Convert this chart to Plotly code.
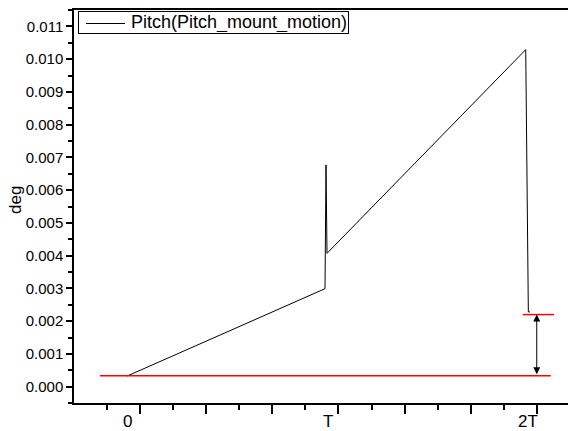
import plotly.graph_objects as go

# ---- data (x in units of T, y in deg) ----
pitch_x = [0.0, 0.987, 0.992, 0.997, 1.989, 2.002, 2.010]
pitch_y = [0.000325, 0.00299, 0.00677, 0.00407, 0.01029, 0.00228, 0.00228]

lower_ref_x = [-0.136, 2.114]
lower_ref_y = [0.00033, 0.00033]
upper_ref_x = [1.974, 2.130]
upper_ref_y = [0.00220, 0.00220]

arrow_x = 2.044
x_label_pos = [0, 1, 2]
x_label_text = ["0", "T", "2T"]
series_name = "Pitch(Pitch_mount_motion)"
y_title = "deg"

FONT = "Liberation Sans, Arial, sans-serif"
PLOT_W, PLOT_H = 494, 393  # plot area size in px (568-74, 431-10-28)


def px_x(p):
    return (p - 74) / PLOT_W


def px_y(p):
    return (431 - 28 - p) / PLOT_H


fig = go.Figure()
fig.add_trace(go.Scatter(x=pitch_x, y=pitch_y, mode="lines", name=series_name,
                         line=dict(color="black", width=1), showlegend=False))
fig.add_trace(go.Scatter(x=lower_ref_x, y=lower_ref_y, mode="lines", showlegend=False,
                         line=dict(color="#ff0000", width=1.5)))
fig.add_trace(go.Scatter(x=upper_ref_x, y=upper_ref_y, mode="lines", showlegend=False,
                         line=dict(color="#ff0000", width=1.5)))

# double-headed arrow between the two reference lines
fig.add_annotation(x=arrow_x, y=upper_ref_y[0], ax=arrow_x, ay=lower_ref_y[0],
                   xref="x", yref="y", axref="x", ayref="y", text="",
                   showarrow=True, arrowside="end+start", arrowhead=2, startarrowhead=2,
                   arrowsize=1.4, startarrowsize=1.4, arrowwidth=1, arrowcolor="black",
                   standoff=0, startstandoff=0)

# x labels (offset from the tick marks, as in the original)
for xv, t in zip(x_label_pos, x_label_text):
    fig.add_annotation(x=xv, y=0, xref="x", yref="paper", text=t, showarrow=False,
                       yanchor="middle", yshift=-18, font=dict(family=FONT, size=17, color="black"))

# y title
fig.add_annotation(x=px_x(15), y=px_y(200), xref="paper", yref="paper", text=y_title,
                   showarrow=False, textangle=-90, xanchor="center", yanchor="middle",
                   font=dict(family=FONT, size=17, color="black"))

# legend box (Origin style)
fig.add_annotation(x=px_x(78), y=px_y(11), xref="paper", yref="paper", text=series_name,
                   showarrow=False, xanchor="left", yanchor="top", align="right",
                   width=267, height=19, borderpad=1, bordercolor="black", borderwidth=1,
                   bgcolor="rgba(255,255,255,0)", font=dict(family=FONT, size=18, color="black"))
fig.add_shape(type="line", xref="paper", yref="paper", layer="above",
              x0=px_x(86), x1=px_x(125), y0=px_y(23.5), y1=px_y(23.5),
              line=dict(color="black", width=1))

fig.update_layout(
    width=568, height=431,
    margin=dict(l=74, r=0, t=10, b=28),
    paper_bgcolor="white", plot_bgcolor="white",
    font=dict(family=FONT, size=15, color="black"),
    showlegend=False,
)
fig.update_xaxes(range=[-0.266, 2.200], showgrid=False, zeroline=False,
                 showline=True, linecolor="black", linewidth=1.5, mirror=True,
                 ticks="outside", ticklen=9, tickwidth=1.5, tickcolor="black",
                 tick0=0.0634, dtick=0.3303, showticklabels=False,
                 minor=dict(ticks="outside", ticklen=5, tickwidth=1.5, tickcolor="black",
                            tick0=0.0634, dtick=0.16515, showgrid=False))
fig.update_yaxes(range=[-0.0005, 0.0115], showgrid=False, zeroline=False,
                 showline=True, linecolor="black", linewidth=1.5,
                 ticks="outside", ticklen=6, tickwidth=1.5, tickcolor="black",
                 tick0=0, dtick=0.001, tickformat=".3f",
                 tickfont=dict(family=FONT, size=15, color="black"),
                 minor=dict(ticks="outside", ticklen=4, tickwidth=1.5, tickcolor="black",
                            tick0=0, dtick=0.0005, showgrid=False))

fig.write_html("out.html")
